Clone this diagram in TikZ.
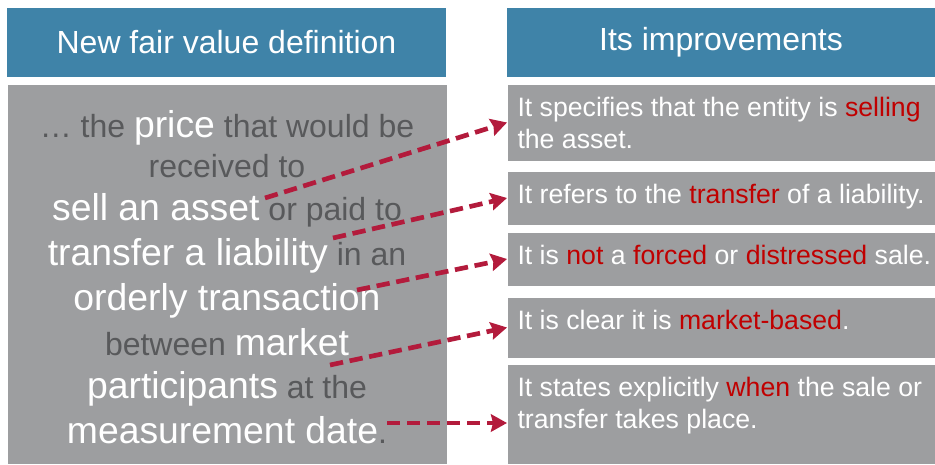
\documentclass[tikz,border=0pt]{standalone}
\usepackage{fontspec}
\setmainfont{Liberation Sans}
\usetikzlibrary{arrows.meta}

\definecolor{headblue}{RGB}{63,131,168}
\definecolor{boxgray}{RGB}{157,158,160}
\definecolor{txtgray}{RGB}{88,89,91}
\definecolor{accred}{RGB}{192,0,0}
\definecolor{arrred}{RGB}{179,27,60}

\newcommand{\keyw}[1]{{\fontsize{28}{34}\selectfont\color{white}#1}}
\newcommand{\redw}[1]{\textcolor{accred}{#1}}

\tikzset{every picture/.style={line width=0.75pt}}
\tikzset{
	headbox/.style={fill=headblue, text=white, font=\fontsize{24}{29}\selectfont, inner sep=0pt, minimum height=51.75pt},
	graybox/.style={fill=boxgray, inner sep=0pt, anchor=north west, minimum width=321pt},
	defline/.style={anchor=base, inner sep=0pt, text=txtgray, font=\fontsize{24}{29}\selectfont},
	imptext/.style={anchor=north west, inner sep=0pt, align=left, text=white, font=\fontsize{20}{24}\selectfont},
	linkarrow/.style={draw=arrred, line width=3.5pt, dash pattern=on 10pt off 5pt, -{Stealth[length=12pt,width=13pt,inset=1.5pt]}}
}

\begin{document}
\begin{tikzpicture}[x=0.75pt,y=0.75pt,yscale=-1,xscale=1]
	\useasboundingbox (0,0) rectangle (935,464);

	% Headers
	\node[headbox, minimum width=329.25pt] (lhead) at (226.5,42.5) {New fair value definition};
	\node[headbox, minimum width=321pt] (rhead) at (721,42.5) {Its improvements};

	% Definition box
	\node[graybox, minimum width=329.25pt, minimum height=284.25pt] (defbox) at (7,84) {};
	\node[defline] (l1) at (227,137) {\dots\ the \keyw{price} that would be};
	\node[defline] (l2) at (227,177) {received to};
	\node[defline] (l3) at (227,220) {\keyw{sell an asset} or paid to};
	\node[defline] (l4) at (227,265) {\keyw{transfer a liability} in an};
	\node[defline] (l5) at (227,310) {\keyw{orderly transaction}};
	\node[defline] (l6) at (227,355) {between \keyw{market}};
	\node[defline] (l7) at (227,398) {\keyw{participants} at the};
	\node[defline] (l8) at (227,443) {\keyw{measurement date}.};

	% Improvement boxes
	\node[graybox, minimum height=57pt] (b1) at (507,84) {};
	\node[graybox, minimum height=39.75pt] (b2) at (507,171) {};
	\node[graybox, minimum height=39.75pt] (b3) at (507,232) {};
	\node[graybox, minimum height=45pt] (b4) at (507,297) {};
	\node[graybox, minimum height=74.25pt] (b5) at (507,364) {};

	% Text Node
	\node[imptext] (t1) at ([xshift=7.5pt,yshift=9.75pt]b1.north west) {It specifies that the entity is \redw{selling}\\the asset.};
	% Text Node
	\node[imptext] (t2) at ([xshift=7.5pt,yshift=9.75pt]b2.north west) {It refers to the \redw{transfer} of a liability.};
	% Text Node
	\node[imptext] (t3) at ([xshift=7.5pt,yshift=9.75pt]b3.north west) {It is \redw{not} a \redw{forced} or \redw{distressed} sale.};
	% Text Node
	\node[imptext] (t4) at ([xshift=7.5pt,yshift=9.75pt]b4.north west) {It is clear it is \redw{market-based}.};
	% Text Node
	\node[imptext] (t5) at ([xshift=7.5pt,yshift=9.75pt]b5.north west) {It states explicitly \redw{when} the sale or\\transfer takes place.};

	% Arrows
	\coordinate (s1) at (265,198);
	\coordinate (s2) at (333,238);
	\coordinate (s3) at (357,290);
	\coordinate (s4) at (330,365);
	\coordinate (s5) at (387,423);
	\draw[linkarrow] (s1) -- (b1.west);
	\draw[linkarrow] (s2) -- (b2.west);
	\draw[linkarrow] (s3) -- (b3.west);
	\draw[linkarrow] (s4) -- (b4.west);
	\draw[linkarrow] (s5) -- (s5 -| b5.west);

\end{tikzpicture}
\end{document}
